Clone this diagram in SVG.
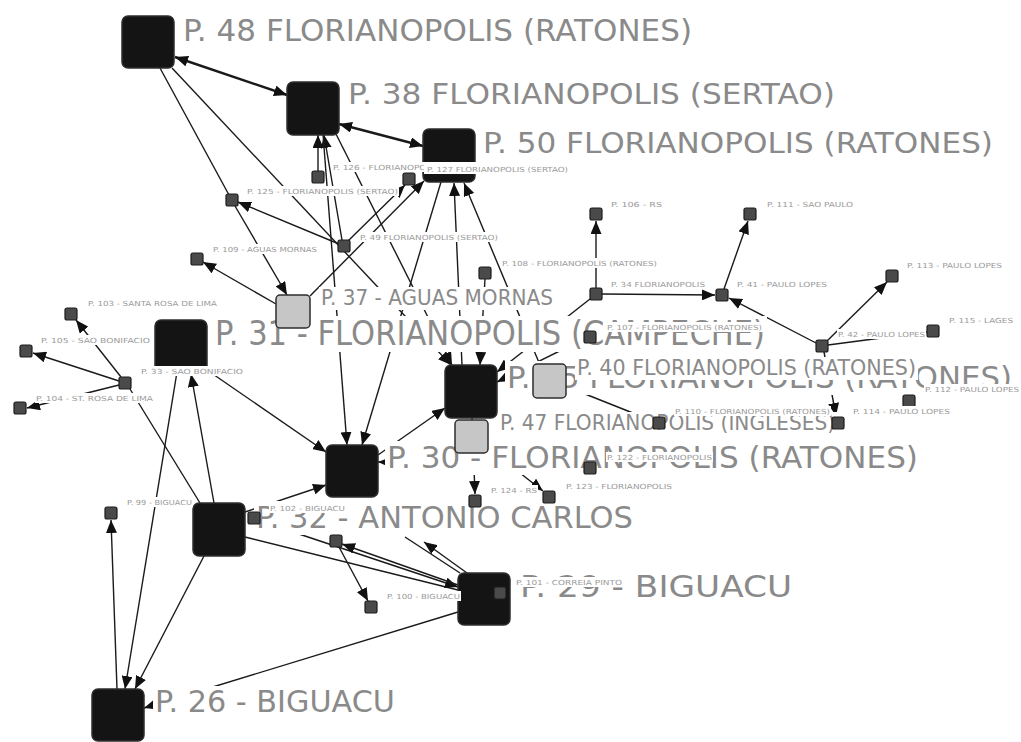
<svg xmlns="http://www.w3.org/2000/svg" width="1021" height="742" viewBox="0 0 1021 742">
  <defs>
    <style>
      .e { stroke:#1a1a1a; stroke-width:1.4; fill:none; }
      .e2 { stroke:#1a1a1a; stroke-width:2.4; fill:none; }
      .a { marker-end:url(#arr); }
      .d { marker-start:url(#arr); marker-end:url(#arr); }
      .nb { fill:#141414; stroke:#2e2e2e; stroke-width:1.5; }
      .ng { fill:#c6c6c6; stroke:#2e2e2e; stroke-width:1.5; }
      .ns { fill:#4a4a4a; stroke:#1c1c1c; stroke-width:1.2; }
      .bg { fill:#ffffff; }
      .lb { font-family:"DejaVu Sans", Verdana, sans-serif; fill:#8a8a8a; }
      .ls { font-family:"DejaVu Sans", Verdana, sans-serif; font-size:7px; fill:#9a9a9a; }
    </style>
    <marker id="arr" markerUnits="userSpaceOnUse" markerWidth="13" markerHeight="11" refX="13" refY="5.5" orient="auto-start-reverse">
      <path d="M0,0 L13,5.5 L0,11 z" fill="#111"/>
    </marker>
  </defs>
  <rect width="1021" height="742" fill="#ffffff"/>

  <!-- connectors -->
  <g id="connectors">
    <line class="e2 d" x1="175" y1="57" x2="287" y2="95"/>
    <line class="e2 d" x1="339" y1="124" x2="423" y2="146"/>
    <line class="e" x1="160" y1="68" x2="229" y2="195"/>
    <line class="e a" x1="172" y1="68" x2="451" y2="365"/>
    <line class="e a" x1="235" y1="206" x2="287" y2="295"/>
    <line class="e a" x1="339" y1="244" x2="238" y2="202"/>
    <line class="e a" x1="276" y1="304" x2="203" y2="262"/>
    <line class="e a" x1="310" y1="296" x2="424" y2="181"/>
    <line class="e a" x1="348" y1="241" x2="405" y2="185"/>
    <line class="e a" x1="318" y1="171" x2="318" y2="135"/>
    <line class="e a" x1="342" y1="240" x2="324" y2="135"/>
    <line class="e a" x1="323" y1="134" x2="347" y2="445"/>
    <line class="e a" x1="336" y1="134" x2="452" y2="365"/>
    <line class="e a" x1="441" y1="182" x2="362" y2="445"/>
    <line class="e a" x1="462" y1="365" x2="454" y2="183"/>
    <line class="e a" x1="540" y1="365" x2="464" y2="183"/>
    <line class="e a" x1="485" y1="279" x2="480" y2="365"/>
    <line class="e a" x1="590" y1="299" x2="497" y2="372"/>
    <line class="e a" x1="596" y1="288" x2="596" y2="221"/>
    <line class="e a" x1="602" y1="294" x2="715" y2="295"/>
    <line class="e a" x1="724" y1="289" x2="748" y2="221"/>
    <line class="e a" x1="816" y1="343" x2="729" y2="298"/>
    <line class="e a" x1="827" y1="341" x2="887" y2="282"/>
    <line class="e" x1="828" y1="345" x2="927" y2="332"/>
    <line class="e a" x1="824" y1="352" x2="836" y2="416"/>
    <line class="e" x1="565" y1="386" x2="653" y2="421"/>
    <line class="e a" x1="472" y1="418" x2="475" y2="494"/>
    <line class="e a" x1="488" y1="448" x2="543" y2="491"/>
    <line class="e a" x1="378" y1="455" x2="445" y2="408"/>
    <line class="e a" x1="207" y1="370" x2="326" y2="452"/>
    <line class="e a" x1="245" y1="512" x2="326" y2="485"/>
    <line class="e a" x1="584" y1="339" x2="497" y2="382"/>
    <line class="e a" x1="584" y1="467" x2="378" y2="462"/>
    <line class="e a" x1="119" y1="381" x2="33" y2="353"/>
    <line class="e a" x1="121" y1="377" x2="76" y2="320"/>
    <line class="e a" x1="119" y1="385" x2="27" y2="408"/>
    <line class="e" x1="130" y1="389" x2="200" y2="503"/>
    <line class="e a" x1="214" y1="503" x2="191" y2="374"/>
    <line class="e a" x1="177" y1="372" x2="125" y2="689"/>
    <line class="e a" x1="204" y1="556" x2="135" y2="689"/>
    <line class="e a" x1="117" y1="689" x2="111" y2="520"/>
    <line class="e a" x1="458" y1="612" x2="144" y2="708"/>
    <line class="e" x1="245" y1="537" x2="458" y2="590"/>
    <line class="e a" x1="260" y1="521" x2="458" y2="587"/>
    <line class="e a" x1="458" y1="585" x2="342" y2="544"/>
    <line class="e a" x1="339" y1="547" x2="368" y2="601"/>
    <line class="e a" x1="467" y1="573" x2="424" y2="542"/>
    <line class="e" x1="460" y1="573" x2="405" y2="537"/>
  </g>

  <!-- vertices, each shape followed by its label -->
  <g id="n-p26">
    <rect class="nb" x="92" y="689" width="52" height="52" rx="6"/>
    <rect class="bg" x="153" y="686" width="244" height="33"/>
    <text class="lb" x="155" y="712" font-size="30" textLength="240" lengthAdjust="spacingAndGlyphs">P. 26 - BIGUACU</text>
  </g>
  <g id="n-p29">
    <rect class="nb" x="458" y="573" width="52" height="52" rx="6"/>
    <rect class="bg" x="518" y="570" width="276" height="34"/>
    <text class="lb" x="520" y="597" font-size="31" textLength="272" lengthAdjust="spacingAndGlyphs">P. 29 - BIGUACU</text>
  </g>
  <g id="n-p30">
    <rect class="nb" x="326" y="445" width="52" height="52" rx="6"/>
    <rect class="bg" x="385" y="441" width="535" height="34"/>
    <text class="lb" x="387" y="468" font-size="31" textLength="531" lengthAdjust="spacingAndGlyphs">P. 30 - FLORIANOPOLIS (RATONES)</text>
  </g>
  <g id="n-p31">
    <rect class="nb" x="155" y="320" width="52" height="52" rx="6"/>
    <rect class="bg" x="213" y="316" width="554" height="36"/>
    <text class="lb" x="215" y="345" font-size="33" textLength="550" lengthAdjust="spacingAndGlyphs">P. 31 - FLORIANOPOLIS (CAMPECHE)</text>
  </g>
  <g id="n-p32">
    <rect class="nb" x="193" y="503" width="52" height="53" rx="6"/>
    <rect class="bg" x="254" y="501" width="381" height="34"/>
    <text class="lb" x="256" y="528" font-size="31" textLength="377" lengthAdjust="spacingAndGlyphs">P. 32 - ANTONIO CARLOS</text>
  </g>
  <g id="n-p33">
    <rect class="ns" x="119" y="377" width="12" height="12" rx="2"/>
    <rect class="bg" x="140" y="366" width="104" height="10"/>
    <text class="ls" x="141" y="374" textLength="102" lengthAdjust="spacingAndGlyphs">P. 33 - SAO BONIFACIO</text>
  </g>
  <g id="n-p34">
    <rect class="ns" x="590" y="288" width="12" height="12" rx="2"/>
    <rect class="bg" x="610" y="279" width="96" height="10"/>
    <text class="ls" x="611" y="287" textLength="94" lengthAdjust="spacingAndGlyphs">P. 34 FLORIANOPOLIS</text>
  </g>
  <g id="n-p35">
    <rect class="nb" x="445" y="365" width="52" height="53" rx="6"/>
    <rect class="bg" x="505" y="361" width="509" height="34"/>
    <text class="lb" x="507" y="388" font-size="31" textLength="505" lengthAdjust="spacingAndGlyphs">P. 35 FLORIANOPOLIS (RATONES)</text>
  </g>
  <g id="n-p37">
    <rect class="ng" x="276" y="295" width="34" height="33" rx="4"/>
    <rect class="bg" x="319" y="287" width="236" height="23"/>
    <text class="lb" x="321" y="305" font-size="21" textLength="232" lengthAdjust="spacingAndGlyphs">P. 37 - AGUAS MORNAS</text>
  </g>
  <g id="n-p38">
    <rect class="nb" x="287" y="82" width="52" height="53" rx="6"/>
    <rect class="bg" x="346" y="79" width="491" height="32"/>
    <text class="lb" x="348" y="104" font-size="29" textLength="487" lengthAdjust="spacingAndGlyphs">P. 38 FLORIANOPOLIS (SERTAO)</text>
  </g>
  <g id="n-p40">
    <rect class="ng" x="533" y="364" width="33" height="34" rx="4"/>
    <rect class="bg" x="575" y="357" width="343" height="23"/>
    <text class="lb" x="577" y="375" font-size="21" textLength="339" lengthAdjust="spacingAndGlyphs">P. 40 FLORIANOPOLIS (RATONES)</text>
  </g>
  <g id="n-p41">
    <rect class="ns" x="716" y="289" width="12" height="12" rx="2"/>
    <rect class="bg" x="736" y="279" width="92" height="10"/>
    <text class="ls" x="737" y="287" textLength="90" lengthAdjust="spacingAndGlyphs">P. 41 - PAULO LOPES</text>
  </g>
  <g id="n-p42">
    <rect class="ns" x="816" y="340" width="12" height="12" rx="2"/>
    <rect class="bg" x="837" y="329" width="89" height="10"/>
    <text class="ls" x="838" y="337" textLength="87" lengthAdjust="spacingAndGlyphs">P. 42 - PAULO LOPES</text>
  </g>
  <g id="n-p47">
    <rect class="ng" x="455" y="420" width="33" height="33" rx="4"/>
    <rect class="bg" x="498" y="412" width="339" height="23"/>
    <text class="lb" x="500" y="430" font-size="21" textLength="335" lengthAdjust="spacingAndGlyphs">P. 47 FLORIANOPOLIS (INGLESES)</text>
  </g>
  <g id="n-p48">
    <rect class="nb" x="122" y="16" width="52" height="52" rx="6"/>
    <rect class="bg" x="181" y="14" width="513" height="34"/>
    <text class="lb" x="183" y="41" font-size="31" textLength="509" lengthAdjust="spacingAndGlyphs">P. 48 FLORIANOPOLIS (RATONES)</text>
  </g>
  <g id="n-p49">
    <rect class="ns" x="338" y="240" width="12" height="12" rx="2"/>
    <rect class="bg" x="359" y="232" width="140" height="10"/>
    <text class="ls" x="360" y="240" textLength="138" lengthAdjust="spacingAndGlyphs">P. 49 FLORIANOPOLIS (SERTAO)</text>
  </g>
  <g id="n-p50">
    <rect class="nb" x="423" y="129" width="52" height="53" rx="6"/>
    <rect class="bg" x="481" y="128" width="514" height="32"/>
    <text class="lb" x="483" y="153" font-size="29" textLength="510" lengthAdjust="spacingAndGlyphs">P. 50 FLORIANOPOLIS (RATONES)</text>
  </g>
  <g id="n-p99">
    <rect class="ns" x="105" y="507" width="12" height="12" rx="2"/>
    <rect class="bg" x="126" y="497" width="67" height="10"/>
    <text class="ls" x="127" y="505" textLength="65" lengthAdjust="spacingAndGlyphs">P. 99 - BIGUACU</text>
  </g>
  <g id="n-x1">
    <rect class="ns" x="330" y="535" width="12" height="12" rx="2"/>
  </g>
  <g id="n-p100">
    <rect class="ns" x="365" y="601" width="12" height="12" rx="2"/>
    <rect class="bg" x="386" y="591" width="75" height="10"/>
    <text class="ls" x="387" y="599" textLength="73" lengthAdjust="spacingAndGlyphs">P. 100 - BIGUACU</text>
  </g>
  <g id="n-p101">
    <rect class="ns" x="494" y="587" width="12" height="12" rx="2"/>
    <rect class="bg" x="515" y="577" width="108" height="10"/>
    <text class="ls" x="516" y="585" textLength="106" lengthAdjust="spacingAndGlyphs">P. 101 - CORREIA PINTO</text>
  </g>
  <g id="n-p102">
    <rect class="ns" x="248" y="512" width="12" height="12" rx="2"/>
    <rect class="bg" x="269" y="503" width="77" height="10"/>
    <text class="ls" x="270" y="511" textLength="75" lengthAdjust="spacingAndGlyphs">P. 102 - BIGUACU</text>
  </g>
  <g id="n-p103">
    <rect class="ns" x="65" y="308" width="12" height="12" rx="2"/>
    <rect class="bg" x="87" y="298" width="131" height="10"/>
    <text class="ls" x="88" y="306" textLength="129" lengthAdjust="spacingAndGlyphs">P. 103 - SANTA ROSA DE LIMA</text>
  </g>
  <g id="n-p104">
    <rect class="ns" x="14" y="402" width="12" height="12" rx="2"/>
    <rect class="bg" x="35" y="393" width="119" height="10"/>
    <text class="ls" x="36" y="401" textLength="117" lengthAdjust="spacingAndGlyphs">P. 104 - ST. ROSA DE LIMA</text>
  </g>
  <g id="n-p105">
    <rect class="ns" x="20" y="345" width="12" height="12" rx="2"/>
    <rect class="bg" x="40" y="335" width="111" height="10"/>
    <text class="ls" x="41" y="343" textLength="109" lengthAdjust="spacingAndGlyphs">P. 105 - SAO BONIFACIO</text>
  </g>
  <g id="n-p106">
    <rect class="ns" x="590" y="208" width="12" height="12" rx="2"/>
    <rect class="bg" x="610" y="199" width="53" height="10"/>
    <text class="ls" x="611" y="207" textLength="51" lengthAdjust="spacingAndGlyphs">P. 106 - RS</text>
  </g>
  <g id="n-p107">
    <rect class="ns" x="584" y="331" width="12" height="12" rx="2"/>
    <rect class="bg" x="606" y="322" width="157" height="10"/>
    <text class="ls" x="607" y="330" textLength="155" lengthAdjust="spacingAndGlyphs">P. 107 - FLORIANOPOLIS (RATONES)</text>
  </g>
  <g id="n-p108">
    <rect class="ns" x="479" y="267" width="12" height="12" rx="2"/>
    <rect class="bg" x="501" y="258" width="157" height="10"/>
    <text class="ls" x="502" y="266" textLength="155" lengthAdjust="spacingAndGlyphs">P. 108 - FLORIANOPOLIS (RATONES)</text>
  </g>
  <g id="n-p109">
    <rect class="ns" x="191" y="253" width="12" height="12" rx="2"/>
    <rect class="bg" x="212" y="244" width="106" height="10"/>
    <text class="ls" x="213" y="252" textLength="104" lengthAdjust="spacingAndGlyphs">P. 109 - AGUAS MORNAS</text>
  </g>
  <g id="n-p110">
    <rect class="ns" x="653" y="417" width="12" height="12" rx="2"/>
    <rect class="bg" x="674" y="406" width="157" height="10"/>
    <text class="ls" x="675" y="414" textLength="155" lengthAdjust="spacingAndGlyphs">P. 110 - FLORIANOPOLIS (RATONES)</text>
  </g>
  <g id="n-p111">
    <rect class="ns" x="744" y="208" width="12" height="12" rx="2"/>
    <rect class="bg" x="766" y="199" width="88" height="10"/>
    <text class="ls" x="767" y="207" textLength="86" lengthAdjust="spacingAndGlyphs">P. 111 - SAO PAULO</text>
  </g>
  <g id="n-p112">
    <rect class="ns" x="903" y="395" width="12" height="12" rx="2"/>
    <rect class="bg" x="924" y="384" width="96" height="10"/>
    <text class="ls" x="925" y="392" textLength="94" lengthAdjust="spacingAndGlyphs">P. 112 - PAULO LOPES</text>
  </g>
  <g id="n-p113">
    <rect class="ns" x="886" y="270" width="12" height="12" rx="2"/>
    <rect class="bg" x="906" y="260" width="97" height="10"/>
    <text class="ls" x="907" y="268" textLength="95" lengthAdjust="spacingAndGlyphs">P. 113 - PAULO LOPES</text>
  </g>
  <g id="n-p114">
    <rect class="ns" x="832" y="417" width="12" height="12" rx="2"/>
    <rect class="bg" x="852" y="406" width="99" height="10"/>
    <text class="ls" x="853" y="414" textLength="97" lengthAdjust="spacingAndGlyphs">P. 114 - PAULO LOPES</text>
  </g>
  <g id="n-p115">
    <rect class="ns" x="927" y="325" width="12" height="12" rx="2"/>
    <rect class="bg" x="948" y="315" width="66" height="10"/>
    <text class="ls" x="949" y="323" textLength="64" lengthAdjust="spacingAndGlyphs">P. 115 - LAGES</text>
  </g>
  <g id="n-p122">
    <rect class="ns" x="584" y="462" width="12" height="12" rx="2"/>
    <rect class="bg" x="606" y="452" width="107" height="10"/>
    <text class="ls" x="607" y="460" textLength="105" lengthAdjust="spacingAndGlyphs">P. 122 - FLORIANOPOLIS</text>
  </g>
  <g id="n-p123">
    <rect class="ns" x="543" y="491" width="12" height="12" rx="2"/>
    <rect class="bg" x="565" y="481" width="108" height="10"/>
    <text class="ls" x="566" y="489" textLength="106" lengthAdjust="spacingAndGlyphs">P. 123 - FLORIANOPOLIS</text>
  </g>
  <g id="n-p124">
    <rect class="ns" x="469" y="495" width="12" height="12" rx="2"/>
    <rect class="bg" x="490" y="485" width="48" height="10"/>
    <text class="ls" x="491" y="493" textLength="46" lengthAdjust="spacingAndGlyphs">P. 124 - RS</text>
  </g>
  <g id="n-p125">
    <rect class="ns" x="226" y="194" width="12" height="12" rx="2"/>
    <rect class="bg" x="246" y="186" width="153" height="10"/>
    <text class="ls" x="247" y="194" textLength="151" lengthAdjust="spacingAndGlyphs">P. 125 - FLORIANOPOLIS (SERTAO)</text>
  </g>
  <g id="n-p126">
    <rect class="ns" x="312" y="171" width="12" height="12" rx="2"/>
    <rect class="bg" x="332" y="162" width="153" height="10"/>
    <text class="ls" x="333" y="170" textLength="151" lengthAdjust="spacingAndGlyphs">P. 126 - FLORIANOPOLIS (SERTAO)</text>
  </g>
  <g id="n-p127">
    <rect class="ns" x="403" y="173" width="12" height="12" rx="2"/>
    <rect class="bg" x="424" y="163" width="146" height="11"/>
    <text class="ls" x="427" y="172" textLength="141" lengthAdjust="spacingAndGlyphs">P. 127 FLORIANOPOLIS (SERTAO)</text>
  </g>
</svg>
